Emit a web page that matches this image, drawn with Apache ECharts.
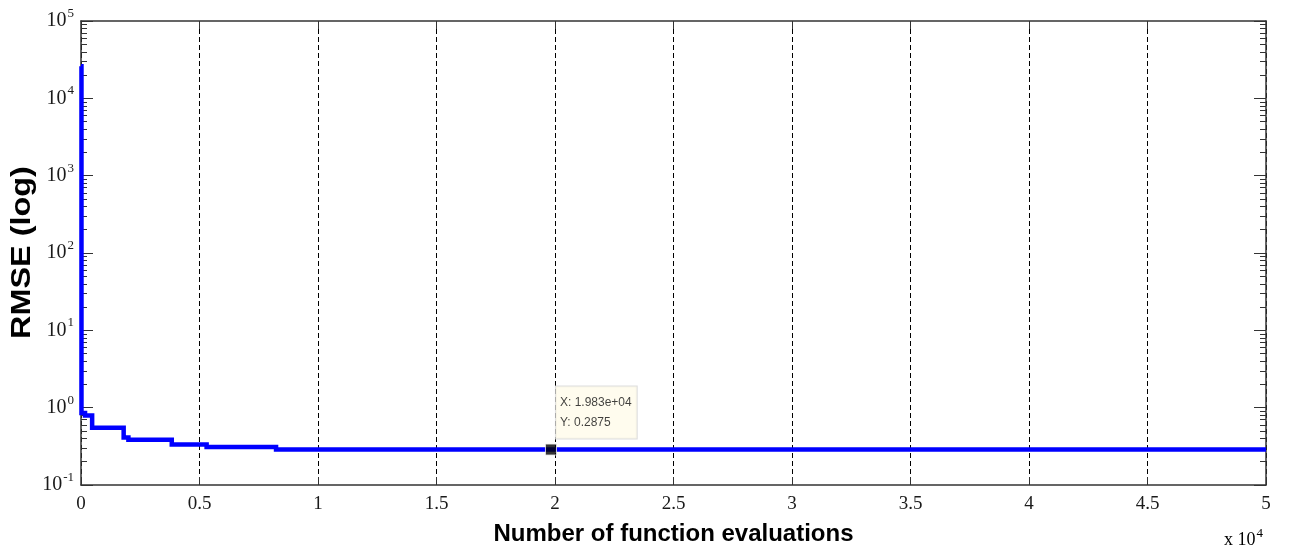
<!DOCTYPE html>
<html>
<head>
<meta charset="utf-8">
<script src="https://cdn.jsdelivr.net/npm/echarts@6/dist/echarts.min.js"></script>
<style>
html,body{margin:0;padding:0;background:#fff;}
#c{width:1289px;height:558px;}
</style>
</head>
<body>
<div id="c"></div>
<script>
// ---- data ----
const yDecades = [0.1, 1, 10, 100, 1000, 10000, 100000];
const yDecadeExp = ['-1', '0', '1', '2', '3', '4', '5'];
const evals = [0, 20, 170, 470, 1800, 2000, 3830, 5300, 8230, 50000];
const rmse  = [26000, 0.85, 0.79, 0.55, 0.41, 0.385, 0.333, 0.311, 0.2875, 0.2875];
const tipX = 19830;
const tipY = 0.2875;
const tipText = ['X: 1.983e+04', 'Y: 0.2875'];
const xName = 'Number of function evaluations';
const yName = 'RMSE (log)';

// minor log ticks (2..9 per decade)
const minorTicks = [];
for (let d = -1; d < 5; d++) for (let k = 2; k <= 9; k++) minorTicks.push(k * Math.pow(10, d));

const serif = '"Liberation Serif", "Times New Roman", serif';
const sans = '"Liberation Sans", Arial, sans-serif';
const axisCol = '#333';

const chart = echarts.init(document.getElementById('c'), null, {renderer: 'canvas'});

function yLabel(v) {
  const i = yDecades.findIndex(d => Math.abs(Math.log10(d) - Math.log10(v)) < 1e-6);
  if (i < 0) return '';
  return '{b|10}{s|' + yDecadeExp[i] + '}';
}
const yRich = {
  b: {fontFamily: serif, fontSize: 20, color: '#1a1a1a'},
  s: {fontFamily: serif, fontSize: 13, color: '#1a1a1a', verticalAlign: 'bottom', padding: [0, 0, 15, 1]}
};

const baseY = {
  type: 'log', logBase: 10, min: 0.1, max: 100000, splitNumber: 6,
  splitLine: {show: false}, minorTick: {show: false}
};

// stairs ("best so far") drawn through the axes' own coordinate mapping
function renderStairs(params, api) {
  if (params.dataIndex !== 0) return null;
  const pts = [];
  for (let i = 0; i < evals.length; i++) {
    if (i > 0) pts.push(api.coord([evals[i], rmse[i - 1]]));
    pts.push(api.coord([evals[i], rmse[i]]));
  }
  return {
    type: 'polyline',
    shape: {points: pts},
    style: {stroke: '#0000ff', lineWidth: 4.5, fill: null, lineJoin: 'miter', lineCap: 'butt'}
  };
}

chart.setOption({
  animation: false,
  grid: {left: 81, right: 23, top: 21, bottom: 73, containLabel: false, outerBoundsMode: 'none'},
  xAxis: [
    {
      type: 'value', position: 'bottom', min: 0, max: 50000, interval: 5000,
      name: xName, nameLocation: 'middle', nameGap: 37,
      nameTextStyle: {fontFamily: sans, fontWeight: 'bold', fontSize: 24, color: '#000'},
      axisLine: {show: true, lineStyle: {color: axisCol, width: 1.5}},
      axisTick: {show: true, inside: true, length: 8, lineStyle: {color: axisCol}},
      axisLabel: {margin: 10, fontFamily: serif, fontSize: 19, color: '#1a1a1a', formatter: v => String(v / 10000)},
      splitLine: {show: true, lineStyle: {color: '#000', type: [5, 3], width: 1}}
    },
    {
      type: 'value', position: 'top', min: 0, max: 50000, interval: 5000,
      axisLine: {show: true, lineStyle: {color: axisCol, width: 1.5}},
      axisTick: {show: true, inside: true, length: 8, lineStyle: {color: axisCol}},
      axisLabel: {show: false}, splitLine: {show: false}
    }
  ],
  yAxis: [
    Object.assign({}, baseY, {
      position: 'left',
      axisLine: {show: true, lineStyle: {color: axisCol, width: 1.5}},
      axisTick: {show: true, inside: true, length: 12, lineStyle: {color: axisCol}},
      axisLabel: {margin: 7, formatter: yLabel, rich: yRich}
    }),
    Object.assign({}, baseY, {
      position: 'left',
      axisLine: {show: false},
      axisTick: {show: true, inside: true, length: 6, customValues: minorTicks, lineStyle: {color: axisCol}},
      axisLabel: {show: false}
    }),
    Object.assign({}, baseY, {
      position: 'right',
      axisLine: {show: true, lineStyle: {color: axisCol, width: 1.5}},
      axisTick: {show: true, inside: true, length: 12, lineStyle: {color: axisCol}},
      axisLabel: {show: false}
    }),
    Object.assign({}, baseY, {
      position: 'right',
      axisLine: {show: false},
      axisTick: {show: true, inside: true, length: 6, customValues: minorTicks, lineStyle: {color: axisCol}},
      axisLabel: {show: false}
    })
  ],
  series: [
    {
      type: 'custom', xAxisIndex: 0, yAxisIndex: 0,
      data: evals.map((x, i) => [x, rmse[i]]),
      renderItem: renderStairs, z: 3, silent: true
    },
    {
      type: 'scatter', xAxisIndex: 0, yAxisIndex: 0, symbol: 'rect', symbolSize: 11,
      data: [[tipX, tipY]],
      itemStyle: {color: '#000', borderColor: '#f0f0f0', borderWidth: 1},
      label: {
        show: true, position: [11, -57], align: 'left', verticalAlign: 'top',
        formatter: tipText.join('\n'),
        fontFamily: sans, fontSize: 12, lineHeight: 20, color: '#111',
        backgroundColor: '#fffbea', borderColor: '#d4d4d4', borderWidth: 1, padding: [6, 5, 6, 4]
      },
      z: 5
    }
  ],
  graphic: [
    {
      type: 'text', x: 22.5, y: 252.5, rotation: Math.PI / 2, scaleX: 1.2,
      style: {text: yName, fontFamily: sans, fontWeight: 'bold', fontSize: 27, fill: '#000', align: 'center', verticalAlign: 'middle'}
    },
    {
      type: 'text', left: 1224, top: 527,
      style: {
        text: '{b|x 10}{s|4}',
        rich: {
          b: {fontFamily: serif, fontSize: 18, color: '#1a1a1a'},
          s: {fontFamily: serif, fontSize: 13, color: '#1a1a1a', verticalAlign: 'bottom', padding: [0, 0, 14, 1]}
        }
      }
    }
  ]
});
</script>
</body>
</html>
